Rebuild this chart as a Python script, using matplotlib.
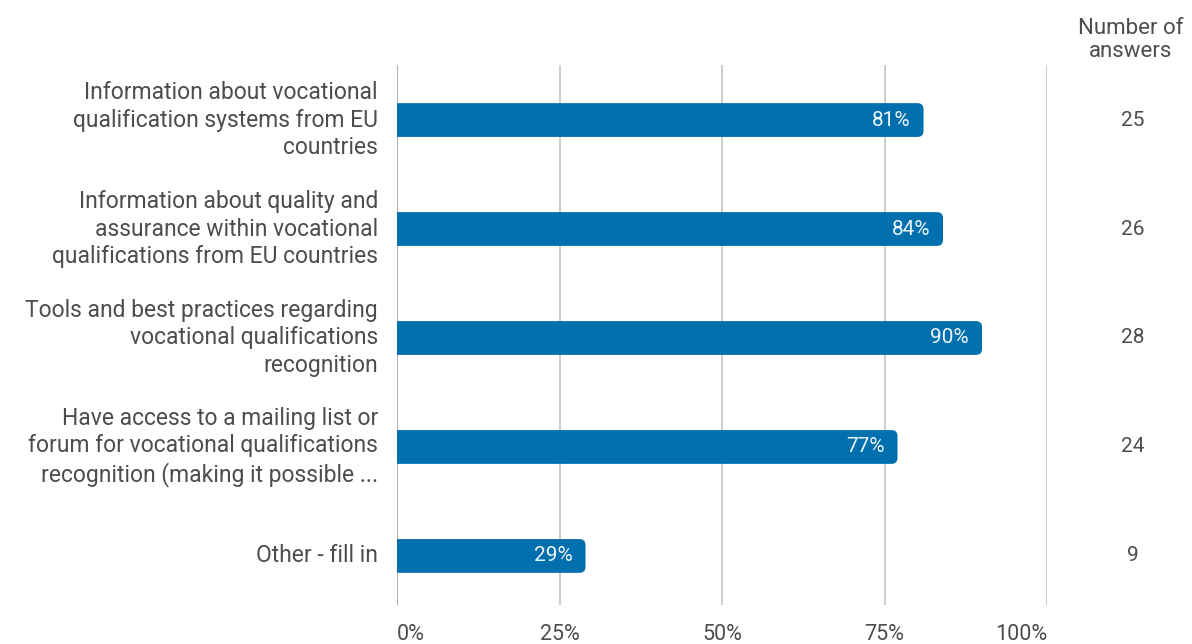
import matplotlib
matplotlib.use("Agg")
import matplotlib.pyplot as plt
from matplotlib.patches import FancyBboxPatch

plt.rcParams['font.family'] = ['Roboto', 'DejaVu Sans']

# data
categories = [
    "Information about vocational\nqualification systems from EU\ncountries",
    "Information about quality and\nassurance within vocational\nqualifications from EU countries",
    "Tools and best practices regarding\nvocational qualifications\nrecognition",
    "Have access to a mailing list or\nforum for vocational qualifications\nrecognition (making it possible ...",
    "Other - fill in",
]
shares = [81, 84, 90, 77, 29]
answers = [25, 26, 28, 24, 9]
xticks = [0, 25, 50, 75, 100]
xtick_labels = ["0%", "25%", "50%", "75%", "100%"]

BAR = "#006fad"
TXT = "#4d4d4d"
GRID = "#c8c8c8"

fig = plt.figure(figsize=(11.92, 6.44), dpi=100)
ax = fig.add_axes([397 / 1192, 1 - 605 / 644, 650 / 1192, 540 / 644])
ax.set_xlim(0, 100)
ax.set_ylim(len(categories) - 1 + 0.45, -0.505)

for x in xticks:
    ax.axvline(x, color="#a8a8a8" if x == 0 else GRID, lw=1.3, zorder=0)

bar_h = 0.31
# rounding: ~6 px in each direction
px_x = 100 / 650
px_y = 1 / 109
rad = 6 * px_x
fig_y = ax.get_yaxis_transform().__class__(fig.transFigure, ax.transData)
for i, v in enumerate(shares):
    p = FancyBboxPatch((-2, i - bar_h / 2), v + 2, bar_h,
                       boxstyle=f"round,pad=0,rounding_size={rad}",
                       mutation_aspect=px_y / px_x,
                       fc=BAR, ec="none", zorder=2, clip_on=True)
    ax.add_patch(p)
    ax.text(v - 13 * px_x, i, f"{v}%", ha="right", va="center",
            color="#eef5fa", fontsize=15, zorder=3)
    ax.text(1133 / 1192, i, str(answers[i]), transform=fig_y,
            ha="center", va="center", color=TXT, fontsize=15)
    ax.text(-19 * px_x, i, categories[i], ha="right", va="center",
            color=TXT, fontsize=16.5, linespacing=1.24, clip_on=False)

ax.set_xticks(xticks)
ax.set_xticklabels(xtick_labels)
ax.set_yticks([])
ax.tick_params(axis="x", length=0, pad=14, labelsize=15.5, labelcolor=TXT)
tl = ax.get_xticklabels()
tl[0].set_ha("left")
tl[0].set_x(-0.5)
tl[-1].set_ha("right")
for s in ax.spines.values():
    s.set_visible(False)

fig.text(1131 / 1192, 1 - 40 / 644, "Number of\nanswers", ha="center", va="center",
         color=TXT, fontsize=16, linespacing=1.1)

fig.savefig("out.png", dpi=100)
